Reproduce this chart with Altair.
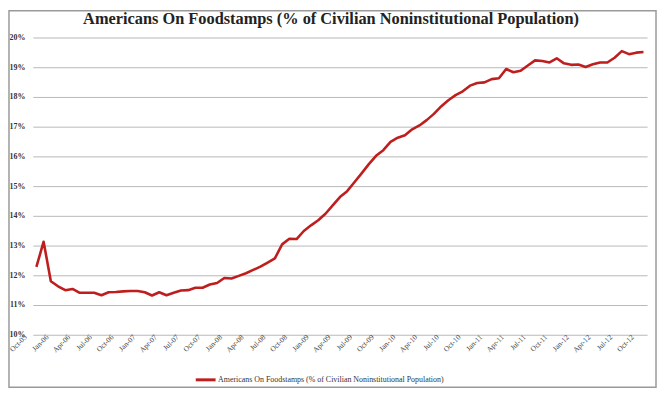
import altair as alt
import pandas as pd

months = [d.strftime("%b-%y") for d in pd.date_range("2005-10-01", "2012-10-01", freq="MS")]

values = [
    12.28, 13.13, 11.80, 11.63, 11.50, 11.54, 11.41, 11.41, 11.41, 11.33,
    11.43, 11.44, 11.46, 11.47, 11.47, 11.43, 11.32, 11.43, 11.33, 11.41,
    11.49, 11.50, 11.58, 11.58, 11.69, 11.74, 11.91, 11.89, 11.98, 12.07,
    12.18, 12.29, 12.43, 12.57, 13.04, 13.23, 13.22, 13.49, 13.68, 13.85,
    14.07, 14.35, 14.63, 14.83, 15.13, 15.43, 15.74, 16.02, 16.21, 16.49,
    16.63, 16.71, 16.91, 17.04, 17.22, 17.43, 17.68, 17.89, 18.06, 18.19,
    18.38, 18.47, 18.49, 18.60, 18.63, 18.94, 18.83, 18.88, 19.06, 19.23,
    19.21, 19.16, 19.30, 19.13, 19.08, 19.09, 19.01, 19.10, 19.16, 19.16,
    19.32, 19.54, 19.44, 19.49, 19.51,
]

series_name = "Americans On Foodstamps (% of Civilian Noninstitutional Population)"
tick_months = months[::3]
y_ticks = list(range(10, 21))

df = pd.DataFrame({"month": months, "value": values, "series": series_name})

W, H = 620, 300
PAD = {"left": 25, "top": 28, "right": 10, "bottom": 54}

line = alt.Chart(df).mark_line(strokeWidth=2.6, strokeJoin="round").encode(
    x=alt.X(
        "month:O",
        sort=months,
        scale=alt.Scale(type="point", padding=0.5),
        axis=alt.Axis(
            values=tick_months,
            title=None,
            labelAngle=-45,
            labelAlign="right",
            labelBaseline="middle",
            labelFont="Liberation Serif",
            labelFontSize=7.5,
            labelColor="#444444",
            labelOffset=-11,
            labelPadding=1,
            ticks=False,
            domain=False,
            grid=False,
        ),
    ),
    y=alt.Y(
        "value:Q",
        scale=alt.Scale(domain=[10, 20], nice=False, zero=False),
        axis=alt.Axis(
            values=y_ticks,
            title=None,
            labelExpr="datum.value + '%'",
            labelFont="Liberation Serif",
            labelFontSize=8,
            labelFontWeight="bold",
            labelColor="#333333",
            labelPadding=8,
            ticks=False,
            domain=False,
            grid=True,
            gridColor="#b8b8b8",
            gridWidth=1,
        ),
    ),
    color=alt.Color(
        "series:N",
        scale=alt.Scale(range=["#bf1e1e"]),
        legend=alt.Legend(
            title=None,
            orient="none",
            legendX=163,
            legendY=334,
            symbolType="stroke",
            symbolSize=400,
            symbolStrokeWidth=3,
            labelFont="Liberation Serif",
            labelFontSize=8,
            labelColor="#333333",
            labelLimit=400,
            labelOffset=1,
        ),
    ),
)

frame = alt.Chart(pd.DataFrame({"f": [0]})).mark_rect(
    fill=None, stroke="#9a9a9a", strokeWidth=1.5, clip=False
).encode(
    x=alt.value(-24),
    x2=alt.value(W + PAD["right"] - 1),
    y=alt.value(-27),
    y2=alt.value(H + PAD["bottom"] - 1),
)

chart = (
    alt.layer(frame, line)
    .properties(
        width=W,
        height=H,
        padding=PAD,
        autosize=alt.AutoSizeParams(type="none"),
        title=alt.Title(
            "Americans On Foodstamps (% of Civilian Noninstitutional Population)",
            font="Liberation Serif",
            fontSize=16.5,
            fontWeight="bold",
            color="#222222",
            anchor="middle",
            offset=-18,
            dx=-9,
        ),
    )
    .configure_view(stroke=None)
)

chart.save("out.html", embed_options={"renderer": "svg", "actions": False})
